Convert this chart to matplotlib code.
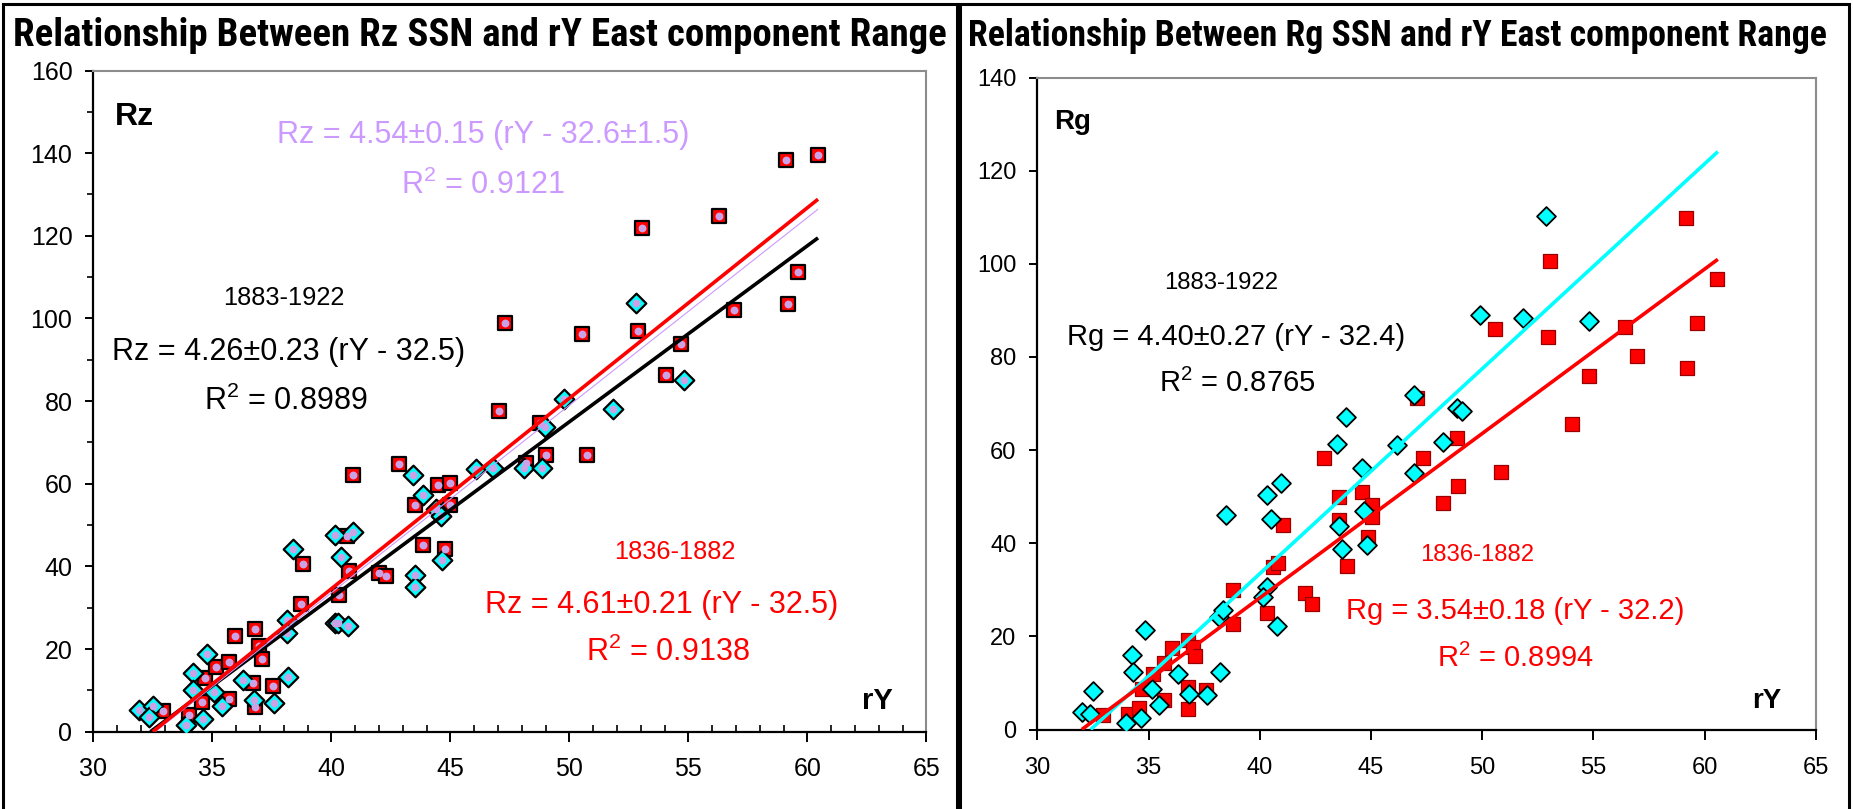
import matplotlib
matplotlib.use('Agg')
import matplotlib.pyplot as plt
from matplotlib.patches import Rectangle
from matplotlib.ticker import MultipleLocator
from matplotlib import font_manager as fm
import numpy as np

plt.rcParams['font.family'] = ['Liberation Sans', 'DejaVu Sans']
plt.rcParams['mathtext.fontset'] = 'custom'
plt.rcParams['mathtext.rm'] = 'Liberation Sans'
plt.rcParams['mathtext.it'] = 'Liberation Sans:italic'
plt.rcParams['mathtext.bf'] = 'Liberation Sans:bold'

# ---------------- data: left panel (Rz) ----------------
rz_red_x = [32.94, 34.03, 34.69, 34.55, 35.16, 35.71, 35.95, 35.71, 36.79, 36.97, 37.07, 36.72,
            36.79, 37.56, 38.73, 38.82, 40.65, 40.74, 40.34, 40.92, 42.0, 42.3, 43.87, 44.78,
            43.5, 45.0, 44.5, 45.0, 42.86, 47.06, 47.3, 48.77, 48.18, 49.0, 50.52, 50.73,
            52.87, 53.04, 54.7, 54.06, 56.3, 56.9, 59.1, 60.45, 59.6, 59.19]
rz_red_y = [5.1, 4.0, 12.9, 7.3, 15.6, 16.9, 23.2, 7.8, 24.8, 20.8, 17.5, 11.7,
            6.0, 11.1, 30.9, 40.7, 47.3, 38.9, 33.1, 62.1, 38.4, 37.6, 45.2, 44.3,
            54.8, 54.8, 59.8, 60.1, 64.9, 77.5, 98.8, 74.6, 65.1, 67.0, 96.3, 67.0,
            96.9, 122.0, 93.8, 86.2, 124.9, 102.1, 138.4, 139.5, 111.3, 103.6]
rz_cyan_x = [31.93, 32.5, 32.35, 33.9, 34.18, 34.2, 34.76, 34.62, 35.07, 35.39, 36.28, 36.76,
             37.59, 38.19, 38.15, 38.12, 38.38, 40.16, 40.92, 40.4, 40.14, 40.3, 40.7, 43.5,
             43.5, 44.64, 43.84, 44.4, 44.6, 43.45, 46.1, 46.8, 48.1, 48.85, 48.98, 49.78,
             51.85, 52.8, 54.8]
rz_cyan_y = [5.2, 6.2, 3.6, 1.6, 14.1, 10.1, 18.8, 3.0, 9.7, 6.2, 12.5, 7.7,
             7.0, 13.2, 27.0, 23.8, 44.1, 47.6, 48.4, 42.3, 26.2, 26.2, 25.5, 37.9,
             35.1, 41.5, 57.2, 53.9, 52.3, 62.1, 63.5, 63.7, 63.7, 63.9, 73.8, 80.6,
             78.0, 103.7, 85.2]

# fits (slope, x-intercept, end of drawn line)
rz_fit_1836 = (4.61, 32.5, 60.45)
rz_fit_1883 = (4.26, 32.4, 60.45)
rz_fit_all = (4.54, 32.6, 60.45)

# ---------------- data: right panel (Rg) ----------------
rg_red_x = [32.94, 34.06, 34.57, 35.19, 34.69, 35.7, 36.04, 35.71, 36.79, 37.01, 37.09, 36.76,
            36.76, 37.6, 38.81, 38.81, 41.03, 40.61, 40.84, 40.31, 42.04, 42.37, 43.58, 43.58,
            43.91, 44.59, 45.03, 45.03, 44.88, 42.89, 47.09, 47.36, 48.23, 48.86, 48.93, 50.58,
            50.85, 52.96, 53.05, 54.82, 54.06, 56.44, 56.95, 59.15, 60.58, 59.65, 59.23]
rg_red_y = [3.1, 3.3, 4.7, 11.9, 8.8, 14.2, 17.4, 6.3, 19.2, 17.8, 15.8, 9.1,
            4.5, 8.5, 30.0, 22.7, 43.9, 34.8, 35.7, 25.0, 29.3, 27.0, 50.0, 45.0,
            35.2, 51.0, 48.2, 45.7, 41.4, 58.3, 71.1, 58.3, 48.7, 62.6, 52.2, 86.0,
            55.2, 84.3, 100.7, 76.0, 65.6, 86.5, 80.3, 109.8, 96.8, 87.3, 77.7]
rg_cyan_x = [32.0, 32.37, 32.52, 33.97, 34.66, 34.24, 34.32, 34.84, 35.17, 35.49, 36.34, 36.83,
             37.61, 38.22, 38.17, 38.37, 38.47, 40.31, 40.94, 40.49, 40.31, 40.16, 40.76, 43.58,
             43.69, 44.69, 44.84, 43.46, 43.88, 44.59, 46.19, 46.94, 46.94, 48.23, 48.86, 49.1,
             49.9, 51.85, 52.87, 54.82]
rg_cyan_y = [3.7, 3.3, 8.3, 1.5, 2.4, 15.9, 12.3, 21.4, 8.8, 5.3, 11.9, 7.6,
             7.4, 12.3, 24.1, 25.7, 46.1, 50.4, 52.9, 45.2, 30.7, 28.4, 22.2, 43.6,
             38.8, 47.0, 39.6, 61.3, 67.0, 56.1, 61.0, 71.9, 55.0, 61.7, 69.0, 68.3,
             89.0, 88.3, 110.3, 87.8]

rg_fit_1883 = (4.40, 32.4, 60.6)
rg_fit_1836 = (3.53, 32.0, 60.6)

x_ticks = [30, 35, 40, 45, 50, 55, 60, 65]
rz_ticks = [0, 20, 40, 60, 80, 100, 120, 140, 160]
rg_ticks = [0, 20, 40, 60, 80, 100, 120, 140]

RED = '#FF0000'
CYAN = '#00FFFF'
LAV = '#CC99FF'
DOT = '#C9A3E6'

W, H = 1853, 809
fig = plt.figure(figsize=(W / 100, H / 100), dpi=100)
renderer = fig.canvas.get_renderer()


def ax_at(x0, x1, ytop, ybot):
    return fig.add_axes([x0 / W, 1 - ybot / H, (x1 - x0) / W, (ybot - ytop) / H])


def ft(x, y, s, **kw):
    kw.setdefault('ha', 'center')
    kw.setdefault('va', 'center')
    return fig.text(x / W, 1 - y / H, s, **kw)


def ft_fit(x, y, s, target_w, size, **kw):
    t = ft(x, y, s, fontsize=size, **kw)
    w = t.get_window_extent(renderer).width
    t.set_fontsize(size * target_w / w)
    return t


def style_axes(ax, ymax, yticks, yminor, lsize, xpad):
    ax.set_xlim(30, 65)
    ax.set_ylim(0, ymax)
    ax.set_xticks(x_ticks)
    ax.set_yticks(yticks)
    for s in ('top', 'right'):
        ax.spines[s].set_color('#8C8C8C')
        ax.spines[s].set_linewidth(1.5)
    for s in ('left', 'bottom'):
        ax.spines[s].set_color('black')
        ax.spines[s].set_linewidth(1.6)
    ax.tick_params(axis='x', which='major', direction='out', length=7, width=1.4,
                   labelsize=lsize, pad=xpad)
    ax.tick_params(axis='y', which='major', direction='out', length=6, width=1.4,
                   labelsize=lsize, pad=9)
    if yminor:
        ax.xaxis.set_minor_locator(MultipleLocator(1))
        ax.yaxis.set_minor_locator(MultipleLocator(10))
        ax.tick_params(axis='x', which='minor', direction='in', length=5, width=1.2)
        ax.tick_params(axis='y', which='minor', direction='out', length=4.5, width=1.2)


def fit_line(ax, fit, color, lw):
    slope, x0, x1 = fit
    xs = np.array([x0, x1])
    ax.plot(xs, slope * (xs - x0), color=color, lw=lw, zorder=5, solid_capstyle='butt')


# ---------------- left panel ----------------
axL = ax_at(93.3, 926.3, 70.5, 731.7)
style_axes(axL, 160, rz_ticks, True, 18, 11)
axL.scatter(rz_red_x, rz_red_y, marker='s', s=95, c=RED, edgecolors='black',
            linewidths=1.6, zorder=2)
axL.scatter(rz_cyan_x, rz_cyan_y, marker='D', s=100, c=CYAN, edgecolors='black',
            linewidths=1.6, zorder=3)
axL.scatter(rz_red_x + rz_cyan_x, rz_red_y + rz_cyan_y, marker='o', s=32, c=DOT,
            linewidths=0, zorder=4)
fit_line(axL, rz_fit_1883, 'black', 2.6)
fit_line(axL, rz_fit_all, LAV, 0.8)
fit_line(axL, rz_fit_1836, RED, 2.6)

# ---------------- right panel ----------------
axR = ax_at(1037.3, 1815.7, 77.5, 729.5)
style_axes(axR, 140, rg_ticks, False, 17, 13)
axR.scatter(rg_red_x, rg_red_y, marker='s', s=115, c=RED, edgecolors='#990000',
            linewidths=0.9, zorder=2)
axR.scatter(rg_cyan_x, rg_cyan_y, marker='D', s=92, c=CYAN, edgecolors='black',
            linewidths=1.3, zorder=3)
fit_line(axR, rg_fit_1883, CYAN, 2.6)
fit_line(axR, rg_fit_1836, RED, 2.6)

# ---------------- texts ----------------
names = {f.name for f in fm.fontManager.ttflist}
title_fam = ['Liberation Sans', 'DejaVu Sans']
for cand in ('Liberation Sans Narrow', 'Roboto Condensed', 'Arial Narrow', 'Open Sans Condensed'):
    if cand in names:
        title_fam = [cand, 'Liberation Sans', 'DejaVu Sans']
        break
ft_fit(480, 36, 'Relationship Between Rz SSN and rY East component Range', 934, 24,
       fontweight='bold', family=title_fam)
ft_fit(1397, 36, 'Relationship Between Rg SSN and rY East component Range', 858, 22,
       fontweight='bold', family=title_fam)

EQL, SML = 22, 18.3
EQR, SMR = 21, 17.2
ft(134, 117, 'Rz', fontsize=23, fontweight='bold')
ft(483, 135, 'Rz = 4.54\u00b10.15 (rY - 32.6\u00b11.5)', fontsize=EQL, color=LAV)
ft(483, 185, 'R$^2$ = 0.9121', fontsize=EQL, color=LAV)
ft(284, 298, '1883-1922', fontsize=SML)
ft(289, 352, 'Rz = 4.26\u00b10.23 (rY - 32.5)', fontsize=EQL)
ft(286, 401, 'R$^2$ = 0.8989', fontsize=EQL)
ft(675, 552, '1836-1882', fontsize=SML, color=RED)
ft(662, 605, 'Rz = 4.61\u00b10.21 (rY - 32.5)', fontsize=EQL, color=RED)
ft(668, 652, 'R$^2$ = 0.9138', fontsize=EQL, color=RED)
ft(877, 701, 'rY', fontsize=21, fontweight='bold')

ft(1073, 122, 'Rg', fontsize=20, fontweight='bold')
ft(1221, 283, '1883-1922', fontsize=SMR)
ft(1236, 337, 'Rg = 4.40\u00b10.27 (rY - 32.4)', fontsize=EQR)
ft(1237, 383, 'R$^2$ = 0.8765', fontsize=EQR)
ft(1477, 555, '1836-1882', fontsize=SMR, color=RED)
ft(1515, 611, 'Rg = 3.54\u00b10.18 (rY - 32.2)', fontsize=EQR, color=RED)
ft(1515, 658, 'R$^2$ = 0.8994', fontsize=EQR, color=RED)
ft(1767, 701, 'rY', fontsize=20, fontweight='bold')

# ---------------- panel frames ----------------
fig.patches.append(Rectangle((3 / W, -0.01), 954 / W, (H - 4) / H + 0.01, transform=fig.transFigure,
                             fill=False, edgecolor='black', linewidth=2.2))
fig.patches.append(Rectangle((960 / W, -0.01), 889 / W, (H - 4) / H + 0.01, transform=fig.transFigure,
                             fill=False, edgecolor='black', linewidth=2.2))

fig.savefig('out.png', dpi=100)
